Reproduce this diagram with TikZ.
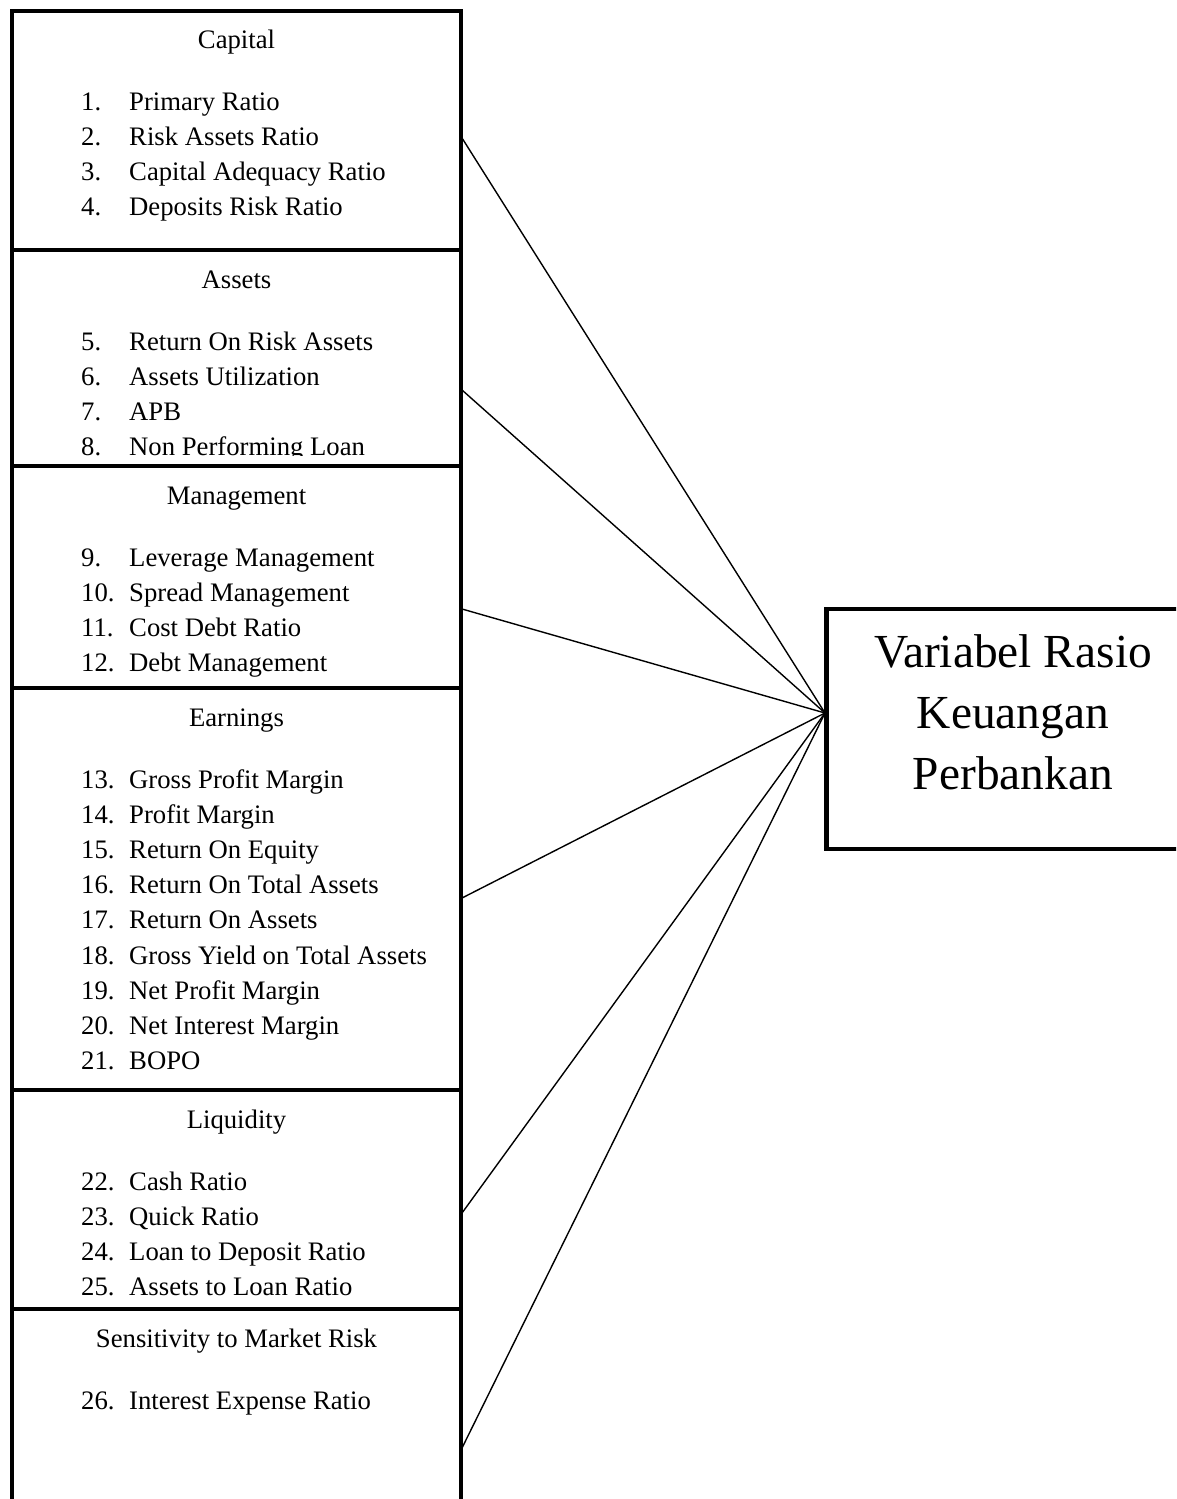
\documentclass[tikz,border=0pt]{standalone}
\usepackage{fontspec}
\setmainfont{Liberation Serif}
\begin{document}
\begin{tikzpicture}[x=1pt,y=-1pt,
  frame/.style={draw,line width=4.8pt,rectangle,inner sep=0pt,outer sep=0pt,anchor=north west},
  title/.style={anchor=base,inner sep=0pt,font=\fontsize{26.7}{35}\selectfont},
  num/.style={anchor=base west,inner sep=0pt,font=\fontsize{26.7}{35}\selectfont},
  item/.style={anchor=base west,inner sep=0pt,font=\fontsize{26.7}{35}\selectfont},
  conn/.style={line width=1.4pt}]
\useasboundingbox (0,0) rectangle (1176,1499);
\clip (0,0) rectangle (1176,1499);

% ---------- texts of the left boxes (clipped like text boxes) ----------
% Box 1: Capital (11 - 250)
\begin{scope}
\clip (12,11) rectangle (461,239);
\node[title] (t1) at (236.5,48) {Capital};
\node[num] (n1) at (81,110) {1.}; \node[item] (i1) at (129,110) {Primary Ratio};
\node[num] (n2) at (81,145.2) {2.}; \node[item] (i2) at (129,145.2) {Risk Assets Ratio};
\node[num] (n3) at (81,180.4) {3.}; \node[item] (i3) at (129,180.4) {Capital Adequacy Ratio};
\node[num] (n4) at (81,215.6) {4.}; \node[item] (i4) at (129,215.6) {Deposits Risk Ratio};
\end{scope}
% Box 2: Assets (250 - 466)
\begin{scope}
\clip (12,250) rectangle (461,455);
\node[title] (t2) at (236.5,288) {Assets};
\node[num] (n5) at (81,350) {5.}; \node[item] (i5) at (129,350) {Return On Risk Assets};
\node[num] (n6) at (81,385.2) {6.}; \node[item] (i6) at (129,385.2) {Assets Utilization};
\node[num] (n7) at (81,420.4) {7.}; \node[item] (i7) at (129,420.4) {APB};
\node[num] (n8) at (81,455.6) {8.}; \node[item] (i8) at (129,455.6) {Non Performing Loan};
\end{scope}
% Box 3: Management (466 - 688)
\begin{scope}
\clip (12,466) rectangle (461,676);
\node[title] (t3) at (236.5,504) {Management};
\node[num] (n9) at (81,566) {9.}; \node[item] (i9) at (129,566) {Leverage Management};
\node[num] (n10) at (81,601.2) {10.}; \node[item] (i10) at (129,601.2) {Spread Management};
\node[num] (n11) at (81,636.4) {11.}; \node[item] (i11) at (129,636.4) {Cost Debt Ratio};
\node[num] (n12) at (81,671.6) {12.}; \node[item] (i12) at (129,671.6) {Debt Management};
\end{scope}
% Box 4: Earnings (688 - 1090)
\begin{scope}
\clip (12,688) rectangle (461,1080);
\node[title] (t4) at (236.5,726) {Earnings};
\node[num] (n13) at (81,788) {13.}; \node[item] (i13) at (129,788) {Gross Profit Margin};
\node[num] (n14) at (81,823.2) {14.}; \node[item] (i14) at (129,823.2) {Profit Margin};
\node[num] (n15) at (81,858.4) {15.}; \node[item] (i15) at (129,858.4) {Return On Equity};
\node[num] (n16) at (81,893.6) {16.}; \node[item] (i16) at (129,893.6) {Return On Total Assets};
\node[num] (n17) at (81,928.8) {17.}; \node[item] (i17) at (129,928.8) {Return On Assets};
\node[num] (n18) at (81,964) {18.}; \node[item] (i18) at (129,964) {Gross Yield on Total Assets};
\node[num] (n19) at (81,999.2) {19.}; \node[item] (i19) at (129,999.2) {Net Profit Margin};
\node[num] (n20) at (81,1034.4) {20.}; \node[item] (i20) at (129,1034.4) {Net Interest Margin};
\node[num] (n21) at (81,1069.6) {21.}; \node[item] (i21) at (129,1069.6) {BOPO};
\end{scope}
% Box 5: Liquidity (1090 - 1309)
\begin{scope}
\clip (12,1090) rectangle (461,1299);
\node[title] (t5) at (236.5,1128) {Liquidity};
\node[num] (n22) at (81,1190) {22.}; \node[item] (i22) at (129,1190) {Cash Ratio};
\node[num] (n23) at (81,1225.2) {23.}; \node[item] (i23) at (129,1225.2) {Quick Ratio};
\node[num] (n24) at (81,1260.4) {24.}; \node[item] (i24) at (129,1260.4) {Loan to Deposit Ratio};
\node[num] (n25) at (81,1295.6) {25.}; \node[item] (i25) at (129,1295.6) {Assets to Loan Ratio};
\end{scope}
% Box 6: Sensitivity to Market Risk (1309 - beyond page)
\begin{scope}
\clip (12,1309) rectangle (461,1520);
\node[title] (t6) at (236.5,1347) {Sensitivity to Market Risk};
\node[num] (n26) at (81,1409) {26.}; \node[item] (i26) at (129,1409) {Interest Expense Ratio};
\end{scope}

% ---------- frames of the left boxes ----------
\node[frame,minimum width=449pt,minimum height=239pt] (capital) at (12,11) {};
\node[frame,minimum width=449pt,minimum height=216pt] (assets) at (12,250) {};
\node[frame,minimum width=449pt,minimum height=222pt] (management) at (12,466) {};
\node[frame,minimum width=449pt,minimum height=402pt] (earnings) at (12,688) {};
\node[frame,minimum width=449pt,minimum height=219pt] (liquidity) at (12,1090) {};
\node[frame,minimum width=449pt,minimum height=230pt] (sensitivity) at (12,1309) {};

% ---------- right box ----------
\node[frame,minimum width=374pt,minimum height=240pt] (variabel) at (826.5,609) {};
\node[align=center,inner sep=0pt,font=\fontsize{47.4}{61}\selectfont] (vtext) at (1013,712)
  {Variabel Rasio\\Keuangan\\Perbankan};

% ---------- connectors ----------
\coordinate (hub) at (825,713);
\coordinate (c1) at (462,138);
\coordinate (c2) at (462,390);
\coordinate (c3) at (462,609);
\coordinate (c4) at (462,898);
\coordinate (c5) at (462,1213);
\coordinate (c6) at (462,1448);
\foreach \c in {c1,c2,c3,c4,c5,c6} \draw[conn] (\c) -- (hub);
\end{tikzpicture}
\end{document}
